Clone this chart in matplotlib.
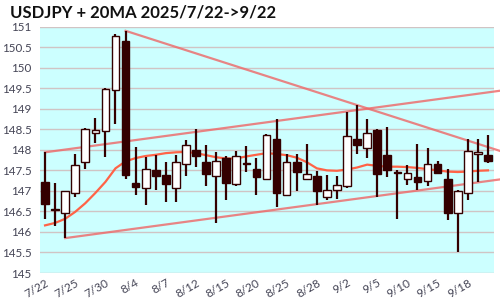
import matplotlib.pyplot as plt
import numpy as np

dates = ['7/22', '7/23', '7/24', '7/25', '7/28', '7/29', '7/30', '7/31', '8/1',
         '8/4', '8/5', '8/6', '8/7', '8/8', '8/11', '8/12', '8/13', '8/14', '8/15',
         '8/18', '8/19', '8/20', '8/21', '8/22', '8/25', '8/26', '8/27', '8/28', '8/29',
         '9/1', '9/2', '9/3', '9/4', '9/5', '9/8', '9/9', '9/10', '9/11', '9/12',
         '9/15', '9/16', '9/17', '9/18', '9/19', '9/22']
opens = [147.21, 146.57, 146.46, 146.96, 147.70, 148.42, 148.47, 149.47, 150.66,
         147.19, 147.07, 147.50, 147.39, 147.07, 147.65, 148.00, 147.70, 147.36, 147.80,
         147.18, 147.67, 147.53, 147.30, 148.26, 146.90, 147.70, 147.28, 147.37, 146.85,
         147.02, 147.13, 148.26, 148.04, 148.49, 147.87, 147.46, 147.28, 147.34, 147.23,
         147.65, 147.28, 146.45, 146.94, 147.89, 147.87]
highs = [147.94, 147.19, 147.00, 147.91, 148.54, 148.77, 149.50, 150.81, 150.90,
         148.07, 147.83, 147.87, 147.70, 147.87, 148.24, 148.50, 148.13, 147.94, 147.84,
         147.97, 148.09, 147.81, 148.38, 148.75, 147.91, 147.89, 148.15, 147.49, 147.39,
         147.37, 148.91, 149.10, 148.76, 148.50, 148.55, 147.50, 147.62, 148.14, 148.04,
         147.73, 147.53, 147.03, 148.26, 148.26, 148.36]
lows = [146.32, 146.14, 145.85, 146.85, 147.54, 148.17, 147.82, 148.62, 147.30,
        146.89, 146.65, 147.01, 146.72, 146.74, 147.37, 147.59, 147.11, 146.23, 146.77,
        147.11, 147.45, 146.89, 147.28, 146.60, 146.90, 147.00, 147.28, 146.66, 146.78,
        146.81, 147.06, 147.91, 147.81, 146.84, 147.35, 146.32, 147.15, 147.01, 147.13,
        147.41, 146.30, 145.51, 146.78, 147.21, 147.69]
closes = [146.69, 146.53, 146.99, 147.62, 148.52, 148.48, 149.49, 150.78, 147.38,
          147.09, 147.53, 147.37, 147.16, 147.71, 148.11, 147.86, 147.40, 147.72, 147.20,
          147.84, 147.65, 147.34, 148.35, 146.96, 147.70, 147.45, 147.41, 146.99, 147.02,
          147.14, 148.33, 148.12, 148.42, 147.40, 147.52, 147.43, 147.43, 147.22, 147.65,
          147.43, 146.47, 146.99, 147.96, 147.94, 147.74]
ma20 = [146.16, 146.22, 146.32, 146.49, 146.70, 146.95, 147.22, 147.55, 147.72,
        147.80, 147.85, 147.88, 147.92, 147.94, 147.95, 147.92, 147.87, 147.82, 147.79,
        147.79, 147.84, 147.88, 147.92, 147.90, 147.87, 147.81, 147.70, 147.55, 147.50,
        147.49, 147.52, 147.57, 147.64, 147.61, 147.59, 147.59, 147.58, 147.56, 147.53,
        147.50, 147.47, 147.46, 147.47, 147.49, 147.50]

# trend lines: (start index, start price, end index, end price)
trend_up = (0, 147.94, 45.5, 149.45)
trend_down = (8, 150.90, 45.5, 147.95)
trend_low = (2, 145.85, 45.5, 147.29)

tick_labels = ['7/22', '7/25', '7/30', '8/4', '8/7', '8/12', '8/15', '8/20',
               '8/25', '8/28', '9/2', '9/5', '9/10', '9/15', '9/18']

plt.rcParams['font.family'] = ['Lato', 'DejaVu Sans']

fig = plt.figure(figsize=(5, 3), dpi=100)
ax = fig.add_axes([0.08, 0.09, 0.908, 0.821])
ax.set_facecolor('#ccffff')

x = np.arange(len(dates))
o = np.array(opens)
c = np.array(closes)
up = c >= o
dark = '#330000'

ax.plot(x, ma20, color='#ff6347', lw=1.6, zorder=2)

for t in (trend_up, trend_down, trend_low):
    ax.plot([t[0], t[2]], [t[1], t[3]], color='#ee6666', lw=1.6, alpha=0.8,
            zorder=2, clip_on=False)

ax.vlines(x, lows, highs, color=dark, lw=1.6, zorder=3)
body = np.maximum(np.abs(c - o), 0.02)
ax.bar(x[up], body[up], bottom=o[up], width=0.76, color='white',
       edgecolor=dark, lw=1.0, zorder=4)
ax.bar(x[~up], body[~up], bottom=c[~up], width=0.76, color=dark,
       edgecolor=dark, lw=1.0, zorder=4)

ax.set_xlim(-0.5, 44.6)
ax.set_ylim(145, 151)
ax.set_yticks(np.arange(145, 151.01, 0.5))
ax.set_yticklabels(['145', '145.5', '146', '146.5', '147', '147.5', '148',
                    '148.5', '149', '149.5', '150', '150.5', '151'])
ax.set_xticks([dates.index(d) for d in tick_labels])
ax.set_xticklabels(tick_labels, rotation=30, ha='right', rotation_mode='anchor')
ax.tick_params(length=0, labelcolor='#444455')
ax.tick_params(axis='y', pad=6, labelsize=8.4)
ax.tick_params(axis='x', pad=3, labelsize=8.5)
ax.grid(axis='y', color='#d0c4c4', lw=1)
ax.set_axisbelow(True)
for s in ax.spines.values():
    s.set_visible(False)

fig.text(0.02, 0.958, 'USDJPY + 20MA 2025/7/22->9/22', fontsize=12,
         fontweight='bold', color='#111111', va='center')

fig.savefig('out.png', dpi=100)
